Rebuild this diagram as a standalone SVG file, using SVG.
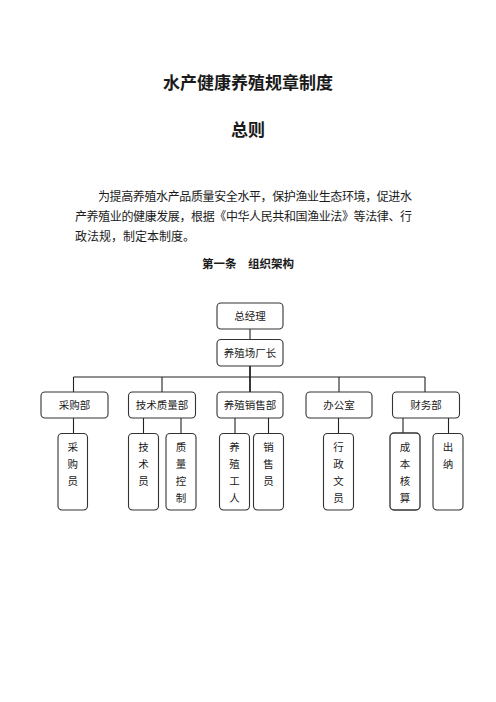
<svg xmlns="http://www.w3.org/2000/svg" width="496" height="702" viewBox="0 0 496 702">
<style>
text{font-family:"Liberation Sans","Noto Sans CJK SC",sans-serif;fill:#1a1a1a}
.t{font-size:17px;font-weight:bold;text-anchor:middle}
.p{font-size:12px}
.h{font-size:11.5px;font-weight:bold;text-anchor:middle}
.box{fill:#fff;stroke:#333;stroke-width:1.1}
.lb{font-size:10.5px;text-anchor:middle}
.ln{stroke:#222;stroke-width:1.1;fill:none}
</style>
<rect width="496" height="702" fill="#fff"/>
<text class="t" x="248" y="89">水产健康养殖规章制度</text>
<text class="t" x="248" y="136">总则</text>
<text class="p" x="98" y="201" textLength="314" lengthAdjust="spacing">为提高养殖水产品质量安全水平，保护渔业生态环境，促进水</text>
<text class="p" x="75" y="221" textLength="337" lengthAdjust="spacing">产养殖业的健康发展，根据《中华人民共和国渔业法》等法律、行</text>
<text class="p" x="75" y="241">政法规，制定本制度。</text>
<text class="h" x="248" y="268">第一条　组织架构</text>
<g id="connectors">
<path class="ln" d="M250 329V339M73.5 377H425M73.5 377V392M162 377V392M339 377V392M425 377V392M73.5 418V433M143.5 418V433M181 418V433M235 418V433M268.5 418V433M338.5 418V433M403 418V433M448.5 418V433"/>
<path d="M250 366V392" stroke="#222" stroke-width="1.8"/>
</g>
<g id="n-gm"><rect class="box" x="217" y="303" width="66" height="26" rx="4"/><text class="lb" x="250" y="320">总经理</text></g>
<g id="n-fm"><rect class="box" x="217" y="339.5" width="66" height="26.5" rx="4"/><text class="lb" x="250" y="357">养殖场厂长</text></g>
<g id="n-cg"><rect class="box" x="41" y="392" width="67" height="26" rx="4"/><text class="lb" x="74.5" y="409">采购部</text></g>
<g id="n-js"><rect class="box" x="128.5" y="392" width="67" height="26" rx="4"/><text class="lb" x="162" y="409">技术质量部</text></g>
<g id="n-xs"><rect class="box" x="217" y="392" width="66" height="26" rx="4"/><text class="lb" x="250" y="409">养殖销售部</text></g>
<g id="n-bg"><rect class="box" x="306" y="392" width="66" height="26" rx="4"/><text class="lb" x="339" y="409">办公室</text></g>
<g id="n-cw"><rect class="box" x="392.5" y="392" width="67" height="26" rx="4"/><text class="lb" x="426" y="409">财务部</text></g>
<g id="n-cgy"><rect class="box" x="58" y="433.5" width="29.5" height="76.5" rx="4"/><text class="lb" x="72.75"><tspan x="72.75" y="451">采</tspan><tspan x="72.75" y="468">购</tspan><tspan x="72.75" y="485">员</tspan></text></g>
<g id="n-jsy"><rect class="box" x="128.5" y="433.5" width="30" height="76.5" rx="4"/><text class="lb"><tspan x="143.5" y="451">技</tspan><tspan x="143.5" y="468">术</tspan><tspan x="143.5" y="485">员</tspan></text></g>
<g id="n-zl"><rect class="box" x="166" y="433.5" width="30" height="76.5" rx="4"/><text class="lb"><tspan x="181" y="451">质</tspan><tspan x="181" y="468">量</tspan><tspan x="181" y="485">控</tspan><tspan x="181" y="502">制</tspan></text></g>
<g id="n-yz"><rect class="box" x="219.5" y="433.5" width="30" height="76.5" rx="4"/><text class="lb"><tspan x="234.5" y="451">养</tspan><tspan x="234.5" y="468">殖</tspan><tspan x="234.5" y="485">工</tspan><tspan x="234.5" y="502">人</tspan></text></g>
<g id="n-xsy"><rect class="box" x="253.5" y="433.5" width="30" height="76.5" rx="4"/><text class="lb"><tspan x="268.5" y="451">销</tspan><tspan x="268.5" y="468">售</tspan><tspan x="268.5" y="485">员</tspan></text></g>
<g id="n-xz"><rect class="box" x="323.5" y="433.5" width="30" height="76.5" rx="4"/><text class="lb"><tspan x="338.5" y="451">行</tspan><tspan x="338.5" y="468">政</tspan><tspan x="338.5" y="485">文</tspan><tspan x="338.5" y="502">员</tspan></text></g>
<g id="n-cb"><rect class="box" x="390" y="433" width="30" height="77" rx="4" style="stroke-width:1.35"/><text class="lb"><tspan x="405" y="451">成</tspan><tspan x="405" y="468">本</tspan><tspan x="405" y="485">核</tspan><tspan x="405" y="502">算</tspan></text></g>
<g id="n-cn"><rect class="box" x="433" y="433.5" width="30" height="76.5" rx="4"/><text class="lb"><tspan x="448" y="451">出</tspan><tspan x="448" y="468">纳</tspan></text></g>
</svg>
